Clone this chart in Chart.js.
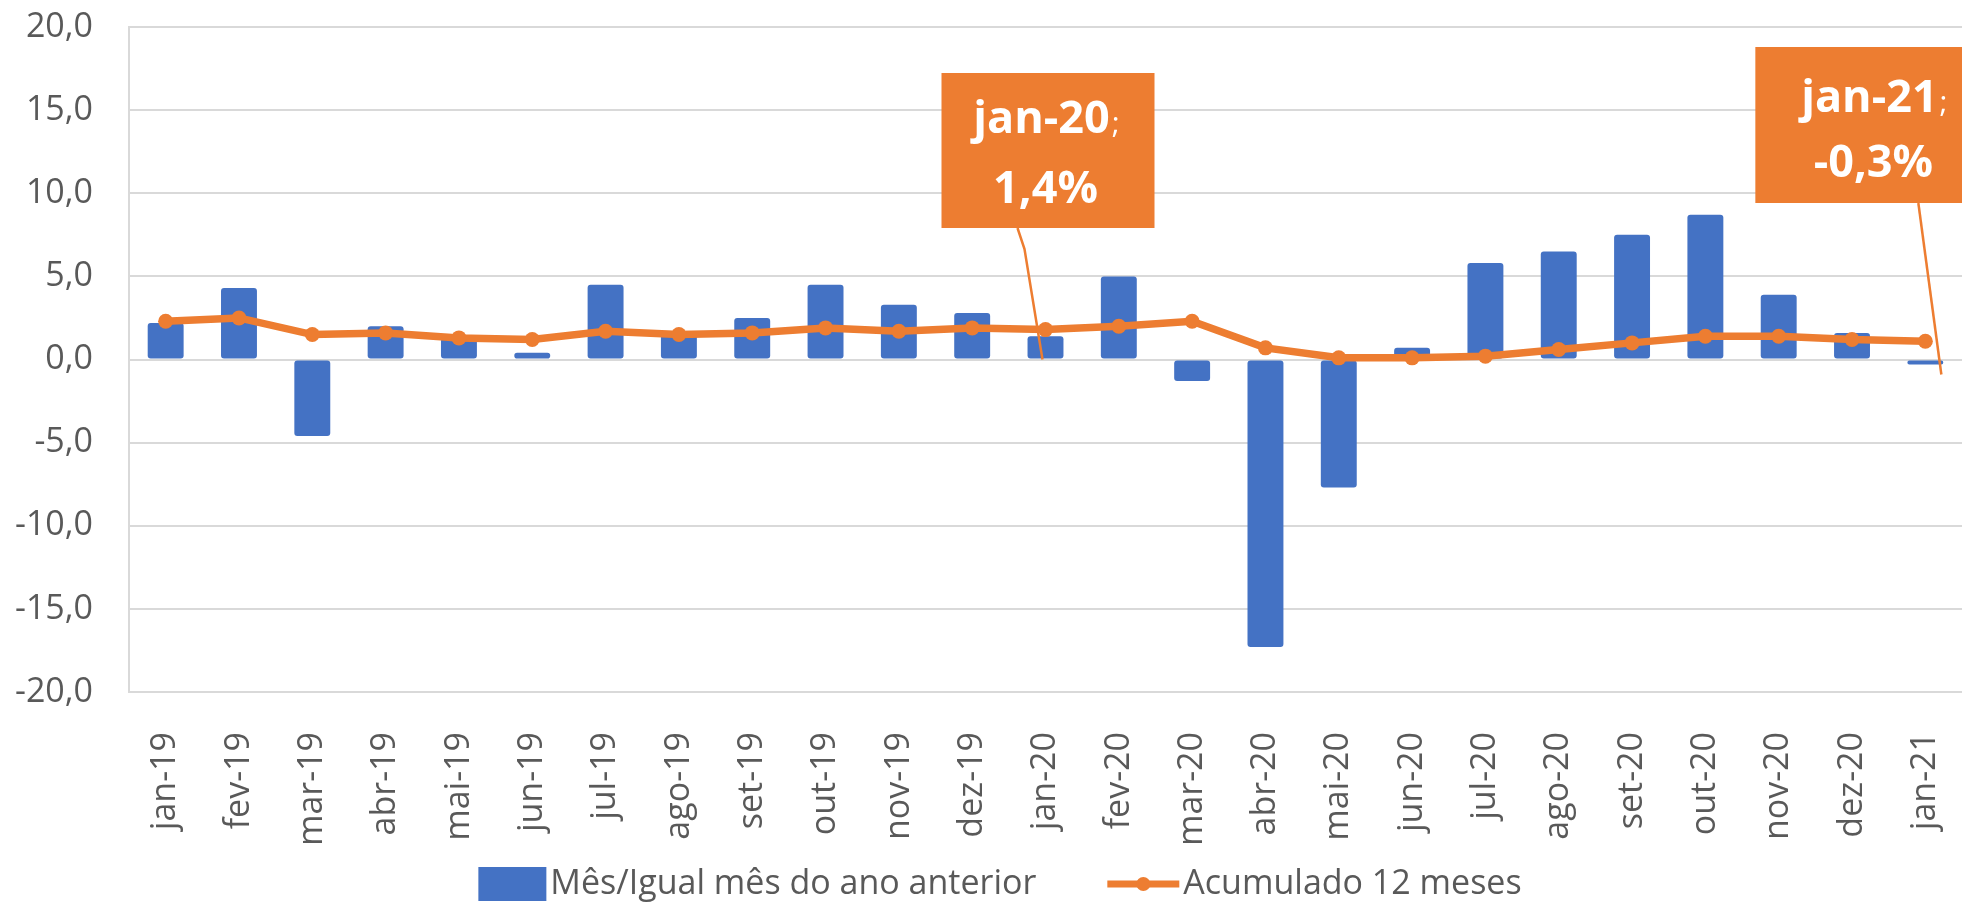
<!DOCTYPE html>
<html>
<head>
<meta charset="utf-8">
<script src="https://cdn.jsdelivr.net/npm/chart.js@4/dist/chart.umd.min.js"></script>
<style>
  html, body { margin: 0; padding: 0; background: #fff; }
  #wrap { width: 1962px; height: 905px; }
</style>
</head>
<body>
<div id="wrap"><canvas id="chart" width="1962" height="905"></canvas></div>
<script>
// Data
const labels = ['jan-19', 'fev-19', 'mar-19', 'abr-19', 'mai-19', 'jun-19', 'jul-19', 'ago-19', 'set-19', 'out-19', 'nov-19', 'dez-19',
    'jan-20', 'fev-20', 'mar-20', 'abr-20', 'mai-20', 'jun-20', 'jul-20', 'ago-20', 'set-20', 'out-20', 'nov-20', 'dez-20', 'jan-21']
const mesValues = [2.2, 4.3, -4.6, 2.0, 1.3, 0.4, 4.5, 1.5, 2.5, 4.5, 3.3, 2.8,
    1.4, 5.0, -1.3, -17.3, -7.7, 0.7, 5.8, 6.5, 7.5, 8.7, 3.9, 1.6, -0.3]
const acumValues = [2.3, 2.5, 1.5, 1.6, 1.3, 1.2, 1.7, 1.5, 1.6, 1.9, 1.7, 1.9,
    1.8, 2.0, 2.3, 0.7, 0.1, 0.1, 0.2, 0.6, 1.0, 1.4, 1.4, 1.2, 1.1]
const seriesNames = ['Mês/Igual mês do ano anterior', 'Acumulado 12 meses']
const yMin = -20, yMax = 20, yStep = 5
const calloutIdx = [12, 24]

const BLUE = '#4472C4'
const ORANGE = '#ED7D31'
const GRAY_TXT = '#595959'
const GRID = '#D9D9D9'
const FONT = "'Open Sans', sans-serif"

const fmt = v => v.toFixed(1).replace('.', ',')

// Callouts (data labels with leader lines)
const calloutPlugin = {
    id: 'callouts',
    afterDatasetsDraw(chart) {
        const ctx = chart.ctx
        const x = chart.scales.x, y = chart.scales.y
        const y0 = y.getPixelForValue(0)
        const boxes = [
            { dx: -104, top: 73, w: 213, h: 155, base1: 133, base2: 203, tx: 0,
              lead: [[-28, 228], [-21, 249], [-3, y0]] },
            { dx: -170, top: 47, w: 234, h: 156, base1: 112, base2: 177, tx: -52,
              lead: [[-7, 203], [16, y0 + 15]] }
        ]
        calloutIdx.forEach((idx, k) => {
            const b = boxes[k]
            const px = x.getPixelForValue(idx)
            ctx.save()
            // leader
            ctx.strokeStyle = ORANGE
            ctx.lineWidth = 2.5
            ctx.beginPath()
            b.lead.forEach((p, j) => {
                if (j === 0) ctx.moveTo(px + p[0], p[1])
                else ctx.lineTo(px + p[0], p[1])
            })
            ctx.stroke()
            // box
            ctx.fillStyle = ORANGE
            ctx.fillRect(px + b.dx, b.top, b.w, b.h)
            // text
            const cx = px + b.tx
            ctx.fillStyle = '#fff'
            ctx.textBaseline = 'alphabetic'
            ctx.font = 'bold 45px ' + FONT
            const t1 = labels[idx]
            const w1 = ctx.measureText(t1).width
            ctx.font = '30px ' + FONT
            const ws = ctx.measureText(';').width
            let sx = cx - (w1 + ws) / 2
            ctx.font = 'bold 45px ' + FONT
            ctx.textAlign = 'left'
            ctx.fillText(t1, sx, b.base1)
            ctx.font = '30px ' + FONT
            ctx.fillText(';', sx + w1 + 2, b.base1)
            ctx.font = 'bold 45px ' + FONT
            ctx.textAlign = 'center'
            ctx.fillText(fmt(mesValues[idx]) + '%', cx, b.base2)
            ctx.restore()
        })
    }
}

// Legend drawn Excel style
const legendPlugin = {
    id: 'excelLegend',
    afterDraw(chart) {
        const ctx = chart.ctx
        ctx.save()
        ctx.font = '34px ' + FONT
        const w1 = ctx.measureText(seriesNames[0]).width
        const w2 = ctx.measureText(seriesNames[1]).width
        const total = 68 + 4 + w1 + 71 + 72 + 4 + w2
        let x0 = 1000 - total / 2
        const cy = 884
        ctx.fillStyle = BLUE
        ctx.fillRect(x0, cy - 17, 68, 34)
        ctx.fillStyle = GRAY_TXT
        ctx.textBaseline = 'middle'
        ctx.textAlign = 'left'
        ctx.fillText(seriesNames[0], x0 + 72, cy)
        let x1 = x0 + 72 + w1 + 71
        ctx.strokeStyle = ORANGE
        ctx.lineWidth = 7
        ctx.beginPath()
        ctx.moveTo(x1, cy)
        ctx.lineTo(x1 + 72, cy)
        ctx.stroke()
        ctx.fillStyle = ORANGE
        ctx.beginPath()
        ctx.arc(x1 + 36, cy, 7, 0, Math.PI * 2)
        ctx.fill()
        ctx.fillStyle = GRAY_TXT
        ctx.fillText(seriesNames[1], x1 + 76, cy)
        ctx.restore()
    }
}

const ctx = document.getElementById('chart').getContext('2d')
const chart = new Chart(ctx, {
    type: 'bar',
    data: {
        labels: labels,
        datasets: [
            {
                type: 'line',
                label: seriesNames[1],
                data: acumValues,
                borderColor: ORANGE,
                backgroundColor: ORANGE,
                borderWidth: 7.5,
                pointRadius: 7.5,
                pointBorderWidth: 0,
                tension: 0,
                order: 0
            },
            {
                label: seriesNames[0],
                data: mesValues,
                backgroundColor: BLUE,
                borderRadius: 3,
                borderSkipped: false,
                categoryPercentage: 1,
                barPercentage: 0.49,
                order: 1
            }
        ]
    },
    options: {
        responsive: false,
        animation: false,
        layout: { padding: { top: 27, bottom: 50, left: 0, right: 0 }, autoPadding: false },
        plugins: {
            legend: { display: false },
            tooltip: { enabled: false }
        },
        scales: {
            x: {
                grid: { display: false, drawTicks: true, tickLength: 40, tickColor: 'transparent' },
                border: { display: false },
                ticks: {
                    color: GRAY_TXT,
                    font: { family: FONT, size: 34 },
                    minRotation: 90,
                    maxRotation: 90,
                    padding: 0,
                    autoSkip: false
                },
                afterFit(scale) {
                    scale.height = 163
                    scale.paddingLeft = 0
                    scale.paddingRight = 0
                }
            },
            y: {
                min: yMin,
                max: yMax,
                grid: { color: GRID, lineWidth: 2, drawTicks: true, tickLength: 36, tickColor: 'transparent' },
                border: { display: true, color: GRID, width: 2 },
                ticks: {
                    stepSize: yStep,
                    color: GRAY_TXT,
                    font: { family: FONT, size: 34 },
                    padding: 0,
                    callback: v => fmt(v)
                },
                afterFit(scale) {
                    scale.width = 129
                    scale.paddingTop = 0
                    scale.paddingBottom = 0
                }
            }
        }
    },
    plugins: [calloutPlugin, legendPlugin]
})
</script>
</body>
</html>
